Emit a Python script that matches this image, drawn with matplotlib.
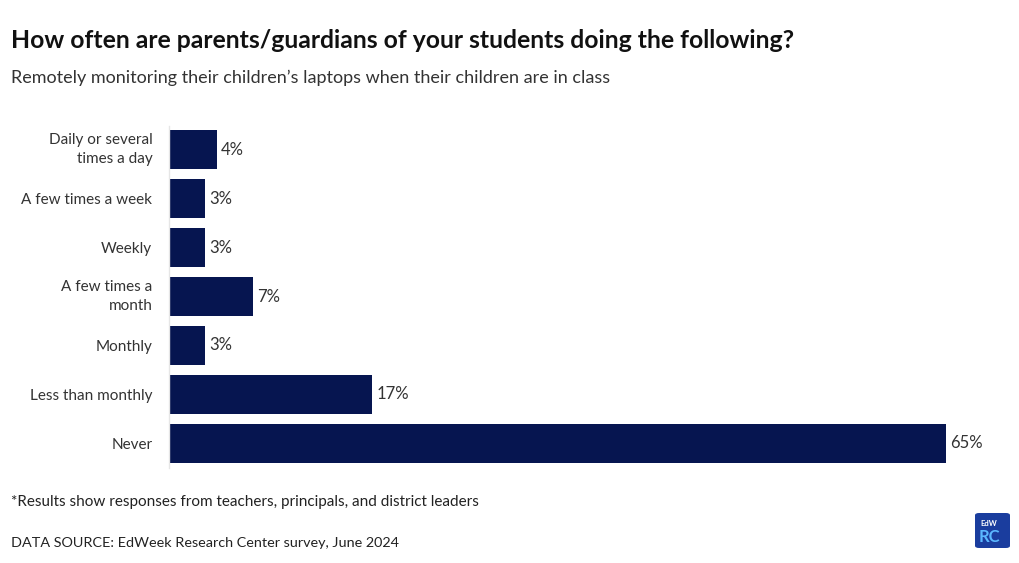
import matplotlib
matplotlib.use("Agg")
import matplotlib.pyplot as plt
from matplotlib.patches import FancyBboxPatch
from matplotlib.transforms import ScaledTranslation

categories = ["Daily or several\ntimes a day", "A few times a week", "Weekly",
              "A few times a\nmonth", "Monthly", "Less than monthly", "Never"]
values = [4, 3, 3, 7, 3, 17, 65]
value_labels = ["4%", "3%", "3%", "7%", "3%", "17%", "65%"]

plt.rcParams['font.family'] = ['Lato', 'DejaVu Sans']

W, H = 1020, 563
fig = plt.figure(figsize=(W/100, H/100), dpi=100)
fig.patch.set_facecolor("white")

x0, x1 = 169, 946
y0, y1 = 125.5, 467.5
ax = fig.add_axes([x0/W, 1 - y1/H, (x1-x0)/W, (y1-y0)/H])
ypos = list(range(len(categories)))
ax.barh(ypos, values, height=0.8, color="#061550")
ax.set_xlim(0, 65)
ax.set_ylim(len(categories)-0.5, -0.5)
for s in ["top", "right", "bottom"]:
    ax.spines[s].set_visible(False)
ax.spines["left"].set_color("#e6e6e6")
ax.spines["left"].set_linewidth(1)
ax.set_xticks([])
ax.set_yticks(ypos)
ax.set_yticklabels(categories, fontsize=11, color="#333333", linespacing=1.45)
ax.tick_params(axis="y", length=0, pad=12)
for lbl in ax.get_yticklabels():
    if "\n" in lbl.get_text():
        lbl.set_transform(lbl.get_transform() + ScaledTranslation(0, 4/100, fig.dpi_scale_trans))
for y, v, lab in zip(ypos, values, value_labels):
    ax.text(v + 0.35, y, lab, va="center", ha="left", fontsize=12, color="#333333")

fig.text(11/W, 1 - 41/H, "How often are parents/guardians of your students doing the following?",
         fontsize=17.8, fontweight="bold", color="#111111", va="center", ha="left")
fig.text(11/W, 1 - 78/H, "Remotely monitoring their children\u2019s laptops when their children are in class",
         fontsize=13, color="#333333", va="center", ha="left")
fig.text(11/W, 1 - 502/H, "*Results show responses from teachers, principals, and district leaders",
         fontsize=11, color="#222222", va="center", ha="left")
fig.text(11/W, 1 - 543/H, "DATA SOURCE: EdWeek Research Center survey, June 2024",
         fontsize=10.4, color="#222222", va="center", ha="left")

# logo
lx, ly, lw, lh = 975, 513, 35, 35
logo = FancyBboxPatch((lx/W, 1 - (ly+lh)/H), lw/W, lh/H,
                      boxstyle="round,pad=0,rounding_size=0.004",
                      transform=fig.transFigure, facecolor="#1a3d9e", edgecolor="none")
fig.patches.append(logo)
fig.text((lx+5)/W, 1 - (ly+11)/H, "EdW", fontsize=5.5, color="white", fontweight="bold",
         va="center", ha="left")
fig.text((lx+4)/W, 1 - (ly+24)/H, "RC", fontsize=12, color="#5cb8ff", fontweight="bold",
         va="center", ha="left")

fig.savefig("out.png", dpi=100)
